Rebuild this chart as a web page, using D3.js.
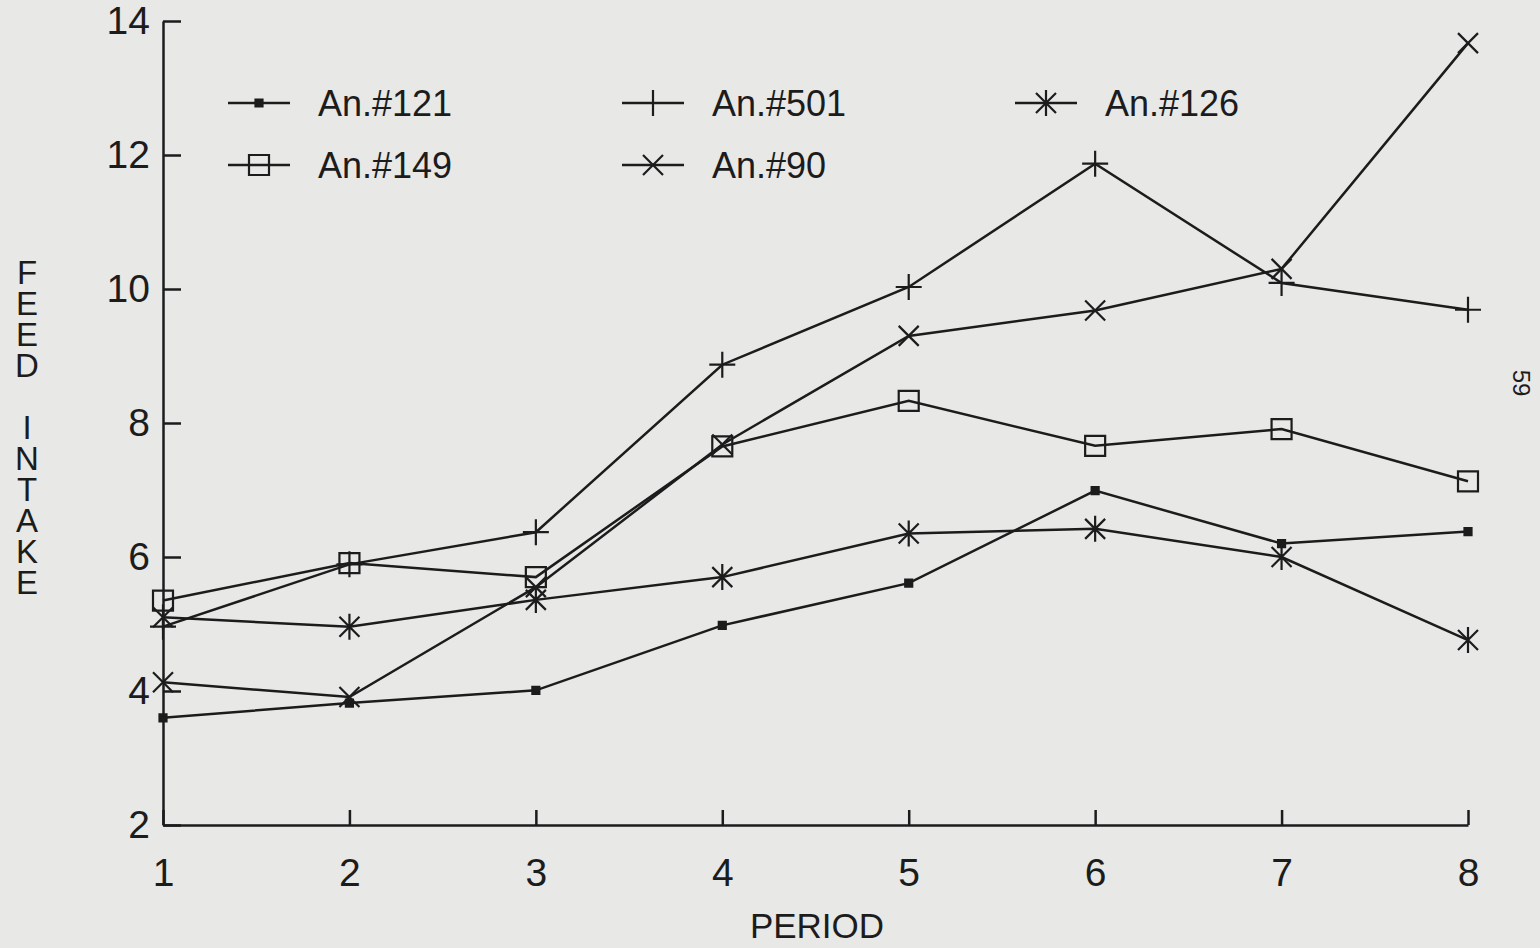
<!DOCTYPE html>
<html>
<head>
<meta charset="utf-8">
<script src="https://cdn.jsdelivr.net/npm/d3@7"></script>
<style>
  html, body { margin: 0; padding: 0; background: #e8e8e6; }
  svg { display: block; }
  .axis path, .axis line { stroke: #1c1c1c; stroke-width: 2.5; }
  .axis text { font-family: "Liberation Sans", Arial, sans-serif; font-size: 39px; fill: #1c1c1c; }
</style>
</head>
<body>
<div id="chart"></div>
<script>

// data
var periods = [1, 2, 3, 4, 5, 6, 7, 8];
var an121 = [3.60, 3.82, 4.01, 4.98, 5.61, 6.99, 6.20, 6.38];
var an501 = [4.96, 5.89, 6.37, 8.87, 10.03, 11.87, 10.09, 9.69];
var an126 = [5.10, 4.96, 5.36, 5.70, 6.35, 6.42, 6.00, 4.76];
var an149 = [5.35, 5.91, 5.70, 7.65, 8.33, 7.66, 7.91, 7.13];
var an90  = [4.13, 3.91, 5.55, 7.68, 9.30, 9.68, 10.30, 13.67];

var seriesNames = ['An.#121', 'An.#501', 'An.#126', 'An.#149', 'An.#90'];
var seriesValues = [an121, an501, an126, an149, an90];
var seriesMarks = ['dot', 'plus', 'star', 'square', 'cross'];

var yTicks = [2, 4, 6, 8, 10, 12, 14];
var xLabel = 'PERIOD';
var yLabel = 'FEED INTAKE';

var svgWidth = 1540;
var svgHeight = 948;
var ink = '#1c1c1c';

var svg = d3.select('#chart')
    .append('svg')
    .attr('width', svgWidth)
    .attr('height', svgHeight);

svg.append('rect')
    .attr('width', svgWidth)
    .attr('height', svgHeight)
    .attr('fill', '#e8e8e6');

var x = d3.scaleLinear().domain([1, 8]).range([163, 1468]);
var y = d3.scaleLinear().domain([2, 14]).range([825, 21]);

// axes: ticks point into the plot like the original
svg.append('g')
    .attr('class', 'axis')
    .attr('transform', 'translate(' + x(1) + ',0)')
    .call(d3.axisLeft(y).tickValues(yTicks).tickFormat(d3.format('d'))
        .tickSizeInner(-18).tickSizeOuter(0).tickPadding(13));

svg.append('g')
    .attr('class', 'axis')
    .attr('transform', 'translate(0,' + y(2) + ')')
    .call(d3.axisBottom(x).tickValues(periods).tickFormat(d3.format('d'))
        .tickSizeInner(-15).tickSizeOuter(0).tickPadding(33));

// marker shapes
function markPath(type) {
    switch (type) {
        case 'dot': return 'M-3.5,-3.5h7v7h-7z';
        case 'plus': return 'M-13,0H13M0,-13V13';
        case 'cross': return 'M-10,-10L10,10M-10,10L10,-10';
        case 'star': return 'M-10,-10L10,10M-10,10L10,-10M0,-13V13';
        case 'square': return 'M-10,-10h20v20h-20z';
    }
}

var line = d3.line()
    .x((d, i) => x(periods[i]))
    .y(d => y(d));

var series = svg.selectAll('.series')
    .data(seriesValues)
    .enter().append('g')
    .attr('class', 'series');

series.append('path')
    .attr('d', d => line(d))
    .attr('fill', 'none')
    .attr('stroke', ink)
    .attr('stroke-width', 2.5);

series.each(function(vals, k) {
    d3.select(this).selectAll('.mark')
        .data(vals)
        .enter().append('path')
        .attr('class', 'mark')
        .attr('transform', (d, i) => 'translate(' + x(periods[i]) + ',' + y(d) + ')')
        .attr('d', markPath(seriesMarks[k]))
        .attr('fill', seriesMarks[k] === 'dot' ? ink : 'none')
        .attr('stroke', ink)
        .attr('stroke-width', 2.2);
});

// legend, three per row
var legendCols = [228, 622, 1015];
var legendRows = [103, 165];

var legend = svg.selectAll('.legend')
    .data(seriesNames)
    .enter().append('g')
    .attr('class', 'legend')
    .attr('transform', (d, i) => 'translate(' + legendCols[i % 3] + ',' + legendRows[Math.floor(i / 3)] + ')');

legend.append('line')
    .attr('x1', 0).attr('x2', 62)
    .attr('stroke', ink).attr('stroke-width', 2.5);

legend.append('path')
    .attr('transform', 'translate(31,0)')
    .attr('d', (d, i) => markPath(seriesMarks[i]))
    .attr('fill', (d, i) => seriesMarks[i] === 'dot' ? ink : 'none')
    .attr('stroke', ink)
    .attr('stroke-width', 2.2);

legend.append('text')
    .attr('x', 90)
    .attr('dy', '0.36em')
    .attr('fill', ink)
    .style('font-family', '"Liberation Sans Narrow", "Liberation Sans", Arial, sans-serif')
    .style('font-size', '36px')
    .text(d => d);

// axis titles
svg.append('text')
    .attr('x', 817)
    .attr('y', 938)
    .attr('text-anchor', 'middle')
    .attr('fill', ink)
    .style('font-family', '"Liberation Sans", Arial, sans-serif')
    .style('font-size', '35px')
    .text(xLabel);

// y title: letters stacked upright in one text
svg.append('text')
    .attr('x', 27)
    .attr('y', 254)
    .attr('fill', ink)
    .style('writing-mode', 'vertical-rl')
    .style('text-orientation', 'upright')
    .style('font-family', '"Liberation Sans", Arial, sans-serif')
    .style('font-size', '33px')
    .style('letter-spacing', '-6px')
    .text(yLabel);

// page number printed sideways at the right edge
svg.append('text')
    .attr('transform', 'translate(1513,383) rotate(90)')
    .attr('text-anchor', 'middle')
    .attr('fill', ink)
    .style('font-family', '"Liberation Sans", Arial, sans-serif')
    .style('font-size', '24px')
    .text('59');

</script>
</body>
</html>
